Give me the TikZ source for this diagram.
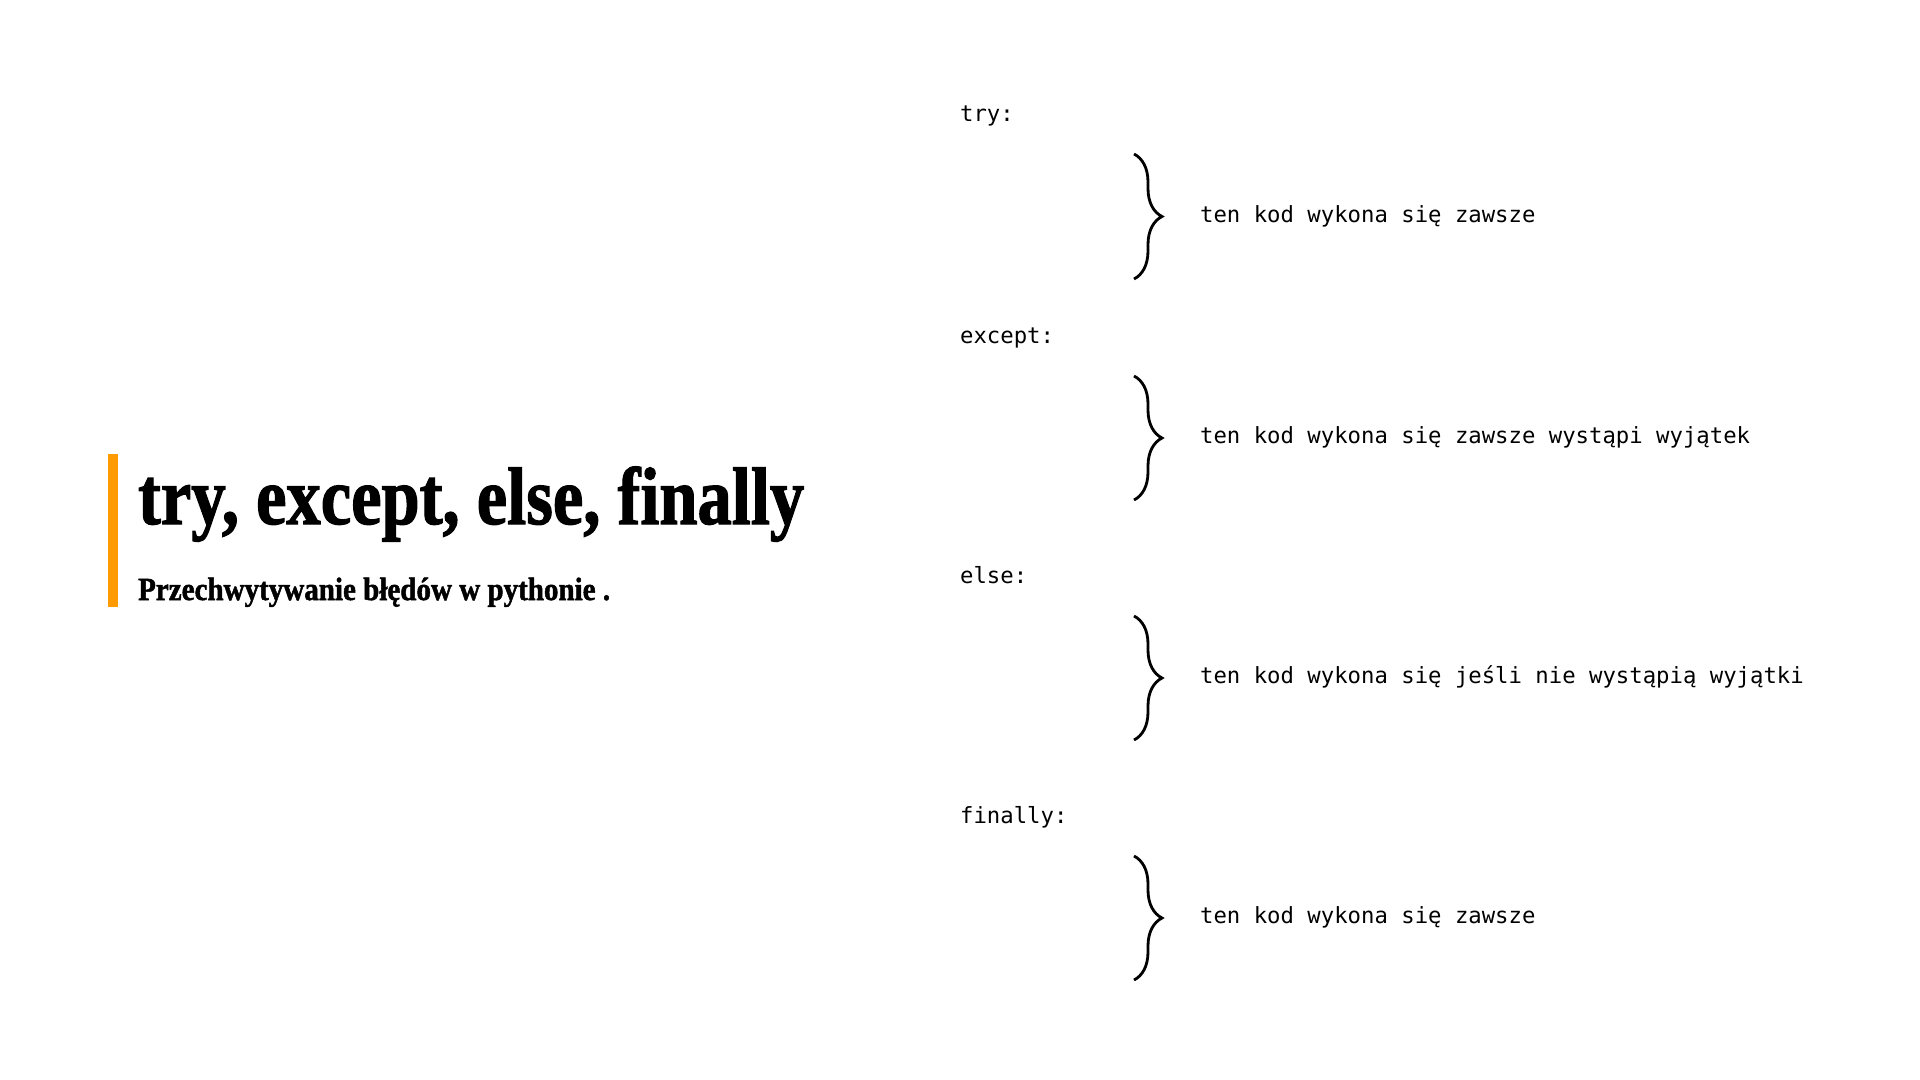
\documentclass[tikz,border=0pt]{standalone}
\usepackage{fontspec}
\setmainfont{Liberation Serif}
\newfontfamily\titlefont[FakeBold=1.6]{Liberation Serif Bold}
\newfontfamily\codefont{DejaVu Sans Mono}
\usepackage{xcolor}
\usetikzlibrary{positioning, decorations.pathreplacing}
\definecolor{accent}{HTML}{FF9A00}

\begin{document}
\begin{tikzpicture}[
        x=0.05cm, y=-0.05cm,
        code/.style={anchor=base west, inner sep=0pt, font=\codefont\fontsize{31.7}{36}\selectfont},
        desc/.style={inner sep=0pt, font=\codefont\fontsize{31.7}{36}\selectfont},
        brc/.style={decorate, decoration={brace, amplitude=1.4cm}, line width=4pt},
    ]
        \useasboundingbox[fill=white] (0,0) rectangle (1920,1080);

        % Title
        \fill[accent] (108,454) rectangle (118,607);
        \node[anchor=base west, inner sep=0pt] (title) at (138,524)
            {\resizebox{33.3cm}{\height}{\titlefont\fontsize{116}{120}\selectfont try, except, else, finally}};
        \node[anchor=base west, inner sep=0pt] (sub) at (138,600)
            {\resizebox{23.6cm}{\height}{\titlefont\fontsize{46}{50}\selectfont Przechwytywanie błędów w pythonie .}};

        % Keywords
        \node[code] (try) at (960,121) {try:};
        \node[code] (except) at (960,343) {except:};
        \node[code] (else) at (960,583) {else:};
        \node[code] (finally) at (960,823) {finally:};

        % Braces
        \coordinate (b1t) at (1134,154); \coordinate (b1b) at (1134,279); \coordinate (m1) at (1163,216);
        \coordinate (b2t) at (1134,376); \coordinate (b2b) at (1134,500); \coordinate (m2) at (1163,437);
        \coordinate (b3t) at (1134,616); \coordinate (b3b) at (1134,740); \coordinate (m3) at (1163,677);
        \coordinate (b4t) at (1134,856); \coordinate (b4b) at (1134,980); \coordinate (m4) at (1163,917);
        \draw[brc] (b1t) -- (b1b);
        \draw[brc] (b2t) -- (b2b);
        \draw[brc] (b3t) -- (b3b);
        \draw[brc] (b4t) -- (b4b);

        % Descriptions
        \node[desc, right=1.85cm of m1] (d1) {ten kod wykona się zawsze};
        \node[desc, right=1.85cm of m2] (d2) {ten kod wykona się zawsze wystąpi wyjątek};
        \node[desc, right=1.85cm of m3] (d3) {ten kod wykona się jeśli nie wystąpią wyjątki};
        \node[desc, right=1.85cm of m4] (d4) {ten kod wykona się zawsze};
    \end{tikzpicture}
\end{document}
